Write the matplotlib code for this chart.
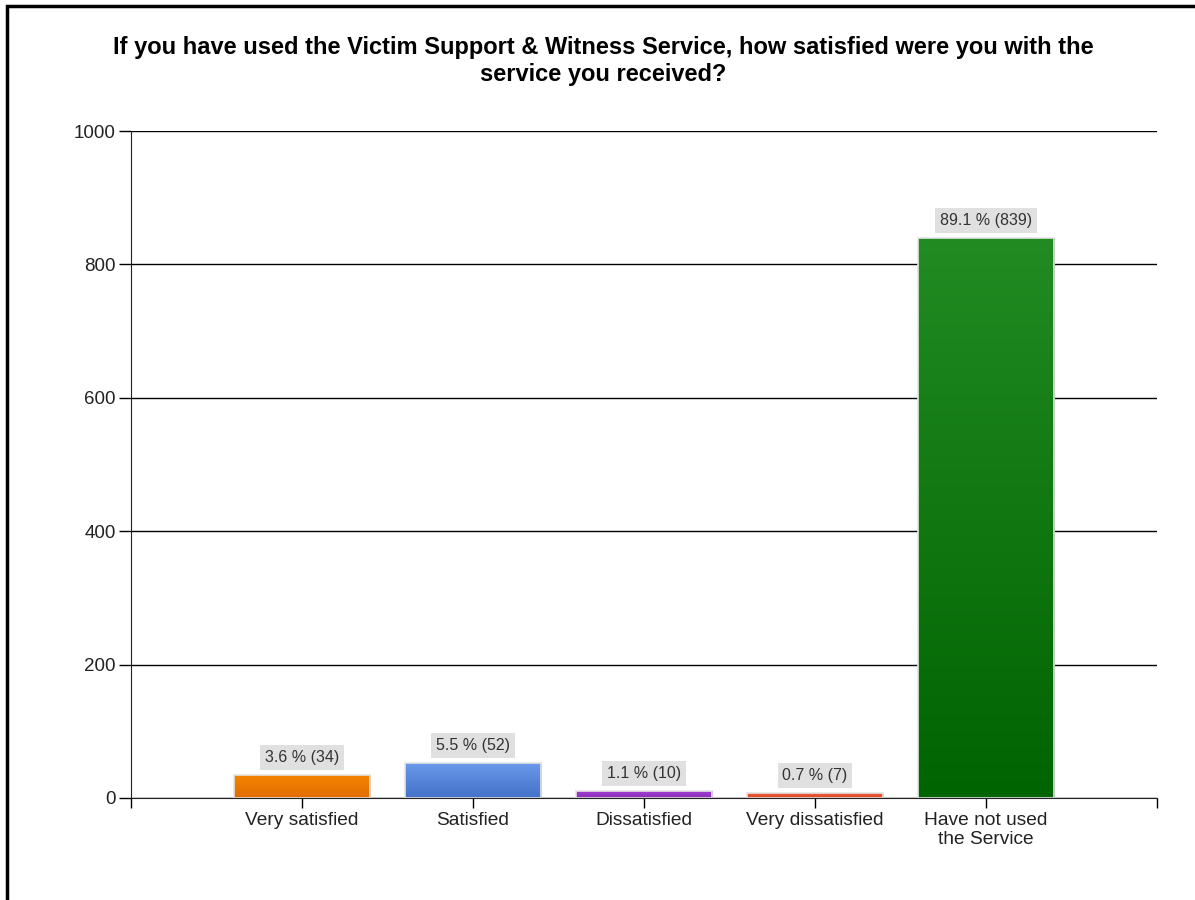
import numpy as np
import matplotlib
matplotlib.use("Agg")
import matplotlib.pyplot as plt
from matplotlib.colors import LinearSegmentedColormap
from matplotlib.patches import Rectangle

plt.rcParams['font.family'] = ['Liberation Sans', 'DejaVu Sans']

# data
categories = ["Very satisfied", "Satisfied", "Dissatisfied", "Very dissatisfied",
              "Have not used\nthe Service"]
counts = [34, 52, 10, 7, 839]
percents = [3.6, 5.5, 1.1, 0.7, 89.1]
# gradient colours (top, bottom)
top_cols = ["#f58400", "#6a98ea", "#a040d0", "#f05a38", "#228b22"]
bot_cols = ["#e06c00", "#4472c8", "#8a2cb8", "#e04828", "#006400"]

title = ("If you have used the Victim Support & Witness Service, how satisfied were you with the\n"
         "service you received?")

fig = plt.figure(figsize=(11.95, 9), dpi=100)
ax = fig.add_axes([131 / 1195, 1 - 798 / 900, (1157 - 131) / 1195, (798 - 131) / 900])

x = np.arange(1, len(categories) + 1)
w = 0.8
for xi, c, t, b in zip(x, counts, top_cols, bot_cols):
    cmap = LinearSegmentedColormap.from_list("g", [b, t])
    grad = np.linspace(0, 1, 256).reshape(-1, 1)
    ax.imshow(grad, cmap=cmap, origin="lower", aspect="auto",
              extent=(xi - w / 2, xi + w / 2, 0, c), zorder=3)
    ax.add_patch(Rectangle((xi - w / 2, 0), w, c, fill=False, edgecolor="#e4e4e4",
                           lw=1.2, zorder=4))

for xi, c, p in zip(x, counts, percents):
    ax.annotate(f"{p} % ({c})", (xi, c), xytext=(0, 7.5), textcoords="offset points",
                ha="center", va="bottom", fontsize=11.5, color="#333333", zorder=5,
                bbox=dict(boxstyle="square,pad=0.3", fc="#e0e0e0", ec="none"))

ax.set_xlim(0, 6)
ax.set_ylim(0, 1000)
ax.set_yticks(np.arange(0, 1001, 200))
ax.set_xticks(np.arange(0, 7))
ax.set_xticklabels([""] + categories + [""], linespacing=1.15)
ax.tick_params(axis="y", length=9, width=1, labelsize=13.5, labelcolor="#222222", pad=2)
ax.tick_params(axis="x", length=7, width=1, labelsize=13.8, labelcolor="#222222", pad=3)
ax.yaxis.grid(True, color="black", lw=1)
ax.set_axisbelow(True)
for s in ["top", "right"]:
    ax.spines[s].set_visible(False)
for s in ["left", "bottom"]:
    ax.spines[s].set_color("#222222")
    ax.spines[s].set_zorder(6)

fig.text(603 / 1195, 1 - 61 / 900, title, ha="center", va="center", fontsize=17,
         fontweight="bold", linespacing=1.25)

# outer frame
fig.patches.append(Rectangle((7 / 1195, -0.1), 1.2, 1 - 6 / 900 + 0.1, fill=False,
                             edgecolor="black", lw=2.5, transform=fig.transFigure))

fig.savefig("out.png", dpi=100)
